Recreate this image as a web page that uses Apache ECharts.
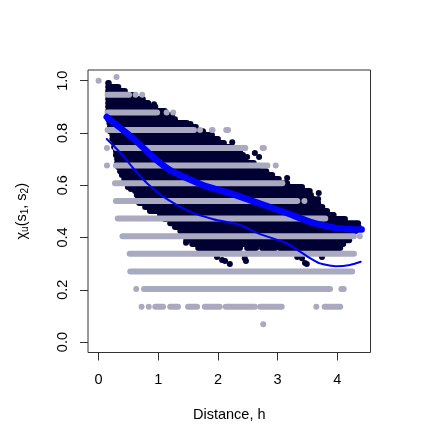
<!DOCTYPE html>
<html>
<head>
<meta charset="utf-8">
<style>
  html, body { margin: 0; padding: 0; background: #fff; }
  #chart { width: 441px; height: 441px; }
</style>
<script src="https://cdn.jsdelivr.net/npm/echarts@6/dist/echarts.min.js"></script>
</head>
<body>
<div id="chart"></div>
<script>
// tick labels
const xTicks = [0, 1, 2, 3, 4]
const yTicks = [0, 0.2, 0.4, 0.6, 0.8, 1]

// dense parts of the cloud, read row by row: [y, xFrom, xTo]
const darkRuns = [
  [0.991, 0.16, 0.17], [0.976, 0.16, 0.33], [0.961, 0.16, 0.44], [0.945, 0.16, 0.61],
  [0.93, 0.16, 0.74], [0.915, 0.16, 0.83], [0.9, 0.16, 0.95], [0.884, 0.16, 1.11],
  [0.869, 0.16, 1.23], [0.853, 0.16, 1.28], [0.838, 0.18, 1.48], [0.823, 0.19, 1.63],
  [0.807, 0.19, 1.75], [0.792, 0.23, 1.9], [0.777, 0.23, 2.0], [0.762, 0.26, 2.1],
  [0.746, 0.26, 2.24], [0.731, 0.29, 2.37], [0.716, 0.29, 2.42], [0.7, 0.31, 2.45],
  [0.685, 0.31, 2.6], [0.67, 0.33, 2.67], [0.654, 0.36, 2.81], [0.639, 0.39, 2.91],
  [0.624, 0.43, 3.02], [0.608, 0.48, 3.16], [0.593, 0.49, 3.41], [0.578, 0.61, 3.54],
  [0.563, 0.64, 3.56], [0.547, 0.66, 3.61], [0.532, 0.68, 3.68], [0.517, 0.78, 3.75],
  [0.501, 0.86, 3.83], [0.486, 1.03, 3.94], [0.471, 1.11, 4.13], [0.455, 1.2, 4.35],
  [0.44, 1.28, 4.36], [0.425, 1.37, 4.31], [0.41, 1.43, 4.26], [0.39, 1.47, 4.2],
  [0.375, 1.57, 4.1], [0.36, 1.67, 2.37], [0.36, 2.49, 2.64], [0.36, 2.74, 2.96],
  [0.36, 3.04, 4.05]
]
// stray dark points
const darkDots = [
  [0.93, 0.91], [1.54, 0.834], [2.24, 0.765], [2.62, 0.723], [2.69, 0.708], [2.49, 0.708],
  [3.16, 0.628], [0.54, 0.586], [3.69, 0.57], [3.68, 0.547], [1.465, 0.38],
  [1.985, 0.325], [2.07, 0.314], [2.12, 0.31], [2.2, 0.299], [2.45, 0.321], [2.47, 0.31],
  [3.33, 0.325], [3.41, 0.321], [3.46, 0.302], [3.49, 0.299], [3.745, 0.325]
]

// grey values sit on discrete levels
const greyRuns = [
  [0.135, 0.95, 1.08], [0.135, 1.2, 1.33], [0.135, 1.5, 1.65], [0.135, 1.78, 2.03],
  [0.135, 2.13, 2.62], [0.135, 2.71, 3.07], [0.135, 3.79, 4.05],
  [0.203, 0.76, 3.88], [0.203, 4.07, 4.11],
  [0.27, 0.53, 4.25], [0.338, 0.52, 4.28], [0.405, 0.4, 4.28], [0.473, 0.32, 3.8],
  [0.54, 0.29, 3.33], [0.608, 0.275, 3.08], [0.676, 0.29, 2.83],
  [0.743, 0.29, 2.46], [0.743, 2.75, 2.77],
  [0.811, 0.15, 1.6], [0.811, 1.9, 1.91], [0.811, 2.14, 2.17],
  [0.878, 0.15, 0.98], [0.946, 0.15, 0.51]
]
const greyDots = [
  [2.76, 0.068], [0.72, 0.135], [0.84, 0.135], [3.65, 0.135], [0.63, 0.203], [4.38, 0.405],
  [3.45, 0.54], [0.14, 0.676], [2.97, 0.676], [0.14, 0.743], [1.7, 0.811],
  [1.14, 0.878], [1.25, 0.878], [0.62, 0.946], [0.73, 0.946], [0.3, 1.014], [0, 1]
]

// the two fitted curves
const thickCurve = [
  [0.136, 0.861], [0.36, 0.82], [0.639, 0.767], [0.912, 0.708], [1.197, 0.658], [1.755, 0.6],
  [2.203, 0.57], [2.538, 0.543], [3.153, 0.494], [3.544, 0.46], [3.99, 0.436], [4.21, 0.432], [4.41, 0.431]
]
const thinCurve = [
  [0.136, 0.777], [0.308, 0.738], [0.443, 0.704], [0.577, 0.666], [0.811, 0.608], [1.147, 0.547],
  [1.532, 0.499], [1.923, 0.47], [2.37, 0.448], [2.706, 0.413], [3.153, 0.378], [3.489, 0.329],
  [3.712, 0.301], [3.992, 0.29], [4.215, 0.295], [4.394, 0.307]
]

const font = '"Liberation Sans", Arial, sans-serif'
const darkColor = '#000033'
const greyColor = '#a9a9bf'

// a run of overlapping points is drawn as one round capped stroke
function runSeries(data, color, width, z) {
  return {
    type: 'custom',
    data: data,
    z: z,
    silent: true,
    renderItem(params, api) {
      const a = api.coord([api.value(1), api.value(0)])
      const b = api.coord([api.value(2), api.value(0)])
      return {
        type: 'line',
        shape: { x1: a[0], y1: a[1], x2: b[0], y2: b[1] },
        style: { stroke: color, lineWidth: width, lineCap: 'round' }
      }
    }
  }
}

function dotSeries(data, color, size, z) {
  return { type: 'scatter', data: data, symbolSize: size, z: z, itemStyle: { color: color, opacity: 1 } }
}

function curveSeries(data, width) {
  return {
    type: 'line', data: data, smooth: 0.2, showSymbol: false, z: 5,
    lineStyle: { color: '#0000ff', width: width, cap: 'round' }
  }
}

const chart = echarts.init(document.getElementById('chart'))
chart.setOption({
  animation: false,
  backgroundColor: '#fff',
  grid: { left: 88, top: 70, width: 282.5, height: 282.5, show: true, borderColor: '#333', borderWidth: 1, backgroundColor: 'transparent' },
  xAxis: {
    type: 'value', min: -0.178, max: 4.558,
    name: 'Distance, h', nameLocation: 'middle', nameGap: 55,
    nameTextStyle: { fontFamily: font, fontSize: 14.5, color: '#000' },
    axisLine: { show: false, onZero: false },
    axisTick: { show: true, length: 8, customValues: xTicks, lineStyle: { color: '#333' } },
    axisLabel: { customValues: xTicks, margin: 20, fontFamily: font, fontSize: 14.5, color: '#000' },
    splitLine: { show: false }
  },
  yAxis: {
    type: 'value', min: -0.04, max: 1.041,
    name: '{t|χ}{s|u}{t|(s}{s|1}{t|, s}{s|2}{t|)}', nameLocation: 'middle', nameGap: 58, nameRotate: 90,
    nameTextStyle: {
      rich: {
        t: { fontFamily: font, fontSize: 14.5, color: '#000', lineHeight: 17 },
        s: { fontFamily: font, fontSize: 10, color: '#000', lineHeight: 17, verticalAlign: 'bottom' }
      }
    },
    axisLine: { show: false, onZero: false },
    axisTick: { show: true, length: 8, customValues: yTicks, lineStyle: { color: '#333' } },
    axisLabel: {
      customValues: yTicks, rotate: 90, margin: 18, fontFamily: font, fontSize: 14.5, color: '#000',
      formatter: v => v.toFixed(1)
    },
    splitLine: { show: false }
  },
  series: [
    runSeries(darkRuns, darkColor, 6, 1),
    dotSeries(darkDots, darkColor, 6, 1),
    runSeries(greyRuns, greyColor, 6, 2),
    dotSeries(greyDots, greyColor, 6, 2),
    curveSeries(thickCurve, 6.5),
    curveSeries(thinCurve, 2)
  ]
})
</script>
</body>
</html>
